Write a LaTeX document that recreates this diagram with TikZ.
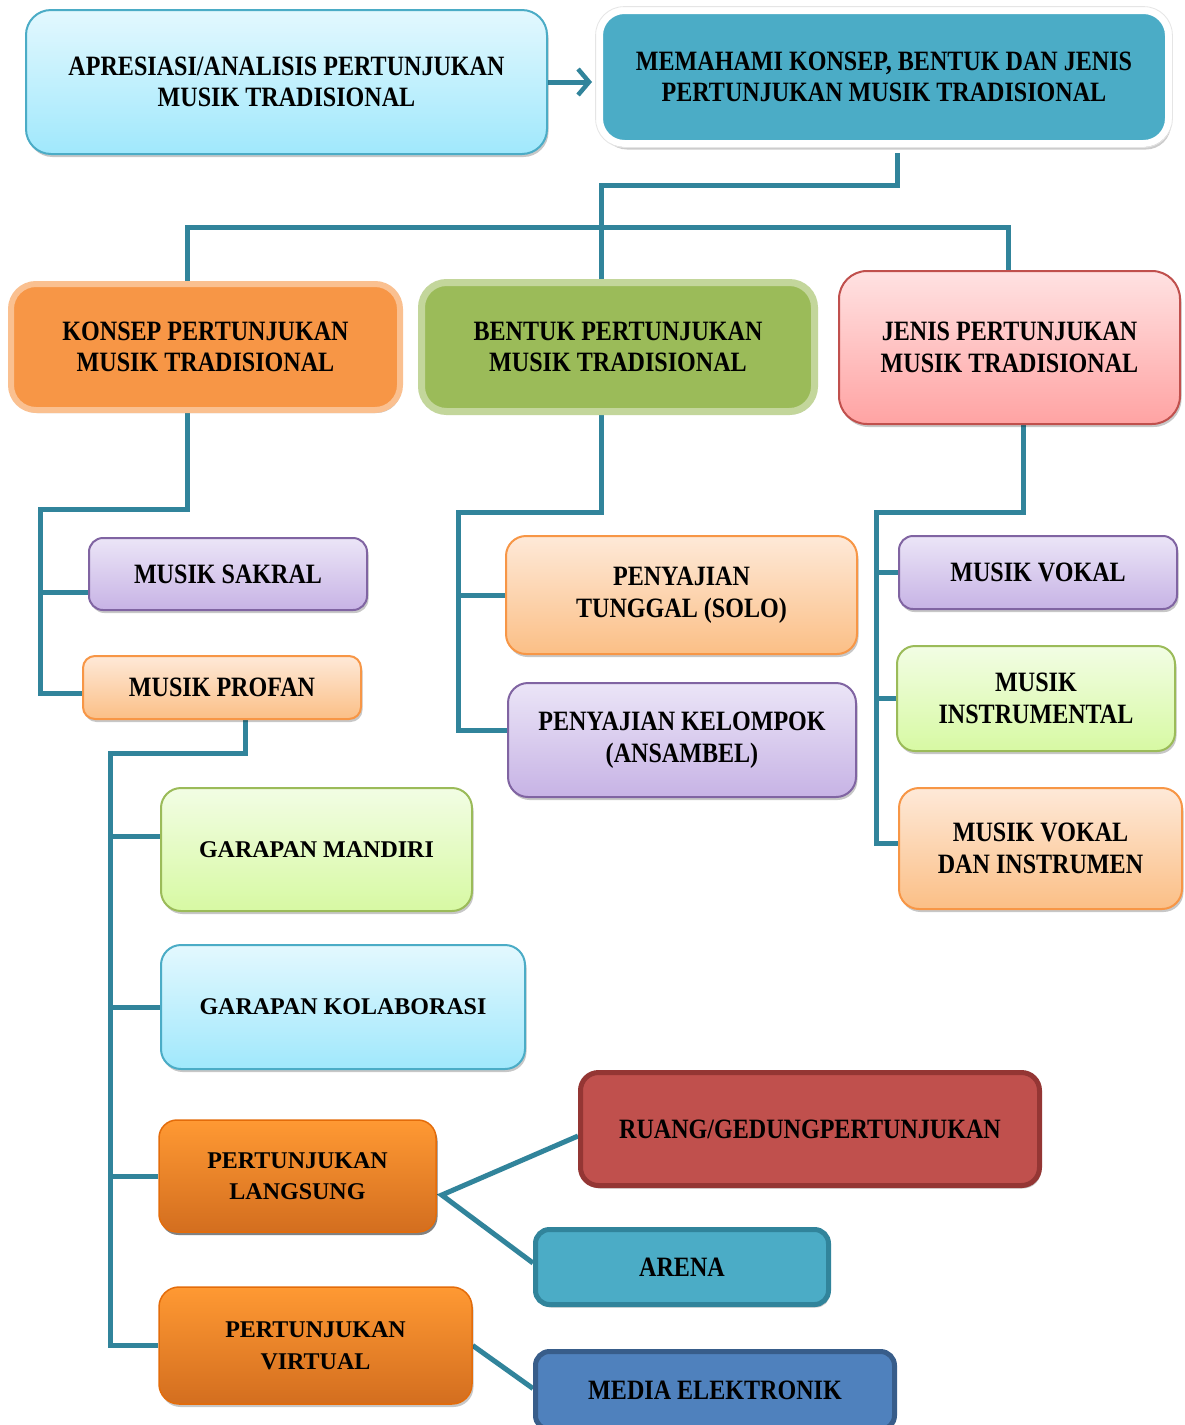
\documentclass[tikz,border=0pt]{standalone}
\usepackage{fontspec}
\setmainfont{Liberation Serif}
\newfontfamily\condf[FakeStretch=0.86]{Liberation Serif}
\usetikzlibrary{arrows.meta,shadows,calc}
\pgfdeclarelayer{background}
\pgfsetlayers{background,main}
\definecolor{lineC}{HTML}{31849B}
\definecolor{cyT}{HTML}{E3F8FE}\definecolor{cyB}{HTML}{A0E8FC}\definecolor{cyD}{HTML}{4BACC6}
\definecolor{teal}{HTML}{4BACC6}
\definecolor{konF}{HTML}{F79646}\definecolor{konD}{HTML}{FAC090}
\definecolor{benF}{HTML}{9BBB59}\definecolor{benD}{HTML}{C3D69B}
\definecolor{piT}{HTML}{FFE2E2}\definecolor{piB}{HTML}{FFA3A3}\definecolor{piD}{HTML}{C0504D}
\definecolor{laT}{HTML}{EBE5F7}\definecolor{laB}{HTML}{C7B3E5}\definecolor{laD}{HTML}{8064A2}
\definecolor{peT}{HTML}{FEE9D8}\definecolor{peB}{HTML}{FBBF86}\definecolor{peD}{HTML}{F79646}
\definecolor{grT}{HTML}{F2FDE4}\definecolor{grB}{HTML}{D7F9A3}\definecolor{grD}{HTML}{9BBB59}
\definecolor{orT}{HTML}{FF9933}\definecolor{orB}{HTML}{D36E1F}\definecolor{orD}{HTML}{E46C0A}
\definecolor{ruF}{HTML}{C0504D}\definecolor{ruD}{HTML}{943634}
\definecolor{arD}{HTML}{31849B}
\definecolor{meF}{HTML}{4F81BD}\definecolor{meD}{HTML}{385D8A}
\tikzset{
  conn/.style={draw=lineC, line width=5pt},
  bx/.style={rectangle, align=center, inner sep=0pt, text=black,
    drop shadow={shadow xshift=1.5pt, shadow yshift=-3pt, opacity=0.22, fill=black}},
  tcond/.style={font=\condf\bfseries\fontsize{28}{31.5}\selectfont},
  tnorm/.style={font=\bfseries\fontsize{24}{31.5}\selectfont},
  cyanG/.style={top color=cyT, bottom color=cyB, draw=cyD, line width=2pt},
  pinkG/.style={top color=piT, bottom color=piB, draw=piD, line width=2pt},
  lavG/.style={top color=laT, bottom color=laB, draw=laD, line width=2pt},
  peachG/.style={top color=peT, bottom color=peB, draw=peD, line width=2pt},
  greenG/.style={top color=grT, bottom color=grB, draw=grD, line width=2pt},
  orangeG/.style={top color=orT, bottom color=orB, draw=orD, line width=1.5pt},
}
\begin{document}
\begin{tikzpicture}[x=1pt,y=-1pt]
\useasboundingbox (0,0) rectangle (1184,1425);
\begin{pgfonlayer}{background}
\fill[white] (0,0) rectangle (1184,1425);
\end{pgfonlayer}

% top row
\node[bx, tcond, cyanG, rounded corners=25pt, minimum width=521pt, minimum height=144pt] (A) at (286.5,82)
  {APRESIASI/ANALISIS PERTUNJUKAN\\MUSIK TRADISIONAL};
\node[bx, tcond, fill=teal, draw=white, line width=7pt, rounded corners=25pt, minimum width=569pt, minimum height=133pt,
  drop shadow={shadow xshift=2.5pt, shadow yshift=-6pt, opacity=0.2, fill=black}] (B) at (884,77)
  {MEMAHAMI KONSEP, BENTUK DAN JENIS\\PERTUNJUKAN MUSIK TRADISIONAL};
\draw[black!10, line width=0.8pt, rounded corners=28.5pt]
  ([xshift=-0.4pt,yshift=0.4pt]B.north west) rectangle ([xshift=0.4pt,yshift=-0.4pt]B.south east);

% second row
\node[bx, tcond, fill=konF, draw=konD, line width=6pt, rounded corners=25pt, minimum width=389pt, minimum height=126pt] (KONSEP) at (205.5,347)
  {KONSEP PERTUNJUKAN\\MUSIK TRADISIONAL};
\node[bx, tcond, fill=benF, draw=benD, line width=7pt, rounded corners=25pt, minimum width=393pt, minimum height=129pt] (BENTUK) at (618,347)
  {BENTUK PERTUNJUKAN\\MUSIK TRADISIONAL};
\node[bx, tcond, pinkG, rounded corners=28pt, minimum width=341pt, minimum height=153pt] (JENIS) at (1009.5,347.5)
  {JENIS PERTUNJUKAN\\MUSIK TRADISIONAL};

% konsep children
\node[bx, tcond, lavG, rounded corners=14pt, minimum width=278pt, minimum height=72pt] (SAKRAL) at (228,574) {MUSIK SAKRAL};
\node[bx, tcond, peachG, rounded corners=12pt, minimum width=278pt, minimum height=63pt] (PROFAN) at (222,687.5) {MUSIK PROFAN};

% bentuk children
\node[bx, tcond, peachG, rounded corners=20pt, minimum width=351pt, minimum height=118pt] (TUNGGAL) at (681.5,595)
  {PENYAJIAN\\TUNGGAL (SOLO)};
\node[bx, tcond, lavG, rounded corners=20pt, minimum width=348pt, minimum height=114pt] (KELOMPOK) at (682,740)
  {PENYAJIAN KELOMPOK\\(ANSAMBEL)};

% jenis children
\node[bx, tcond, lavG, rounded corners=14pt, minimum width=278pt, minimum height=73pt] (VOKAL) at (1038,572.5) {MUSIK VOKAL};
\node[bx, tcond, greenG, rounded corners=18pt, minimum width=278pt, minimum height=105pt] (INSTR) at (1036,698.5)
  {MUSIK\\INSTRUMENTAL};
\node[bx, tcond, peachG, rounded corners=20pt, minimum width=283pt, minimum height=121pt] (VDI) at (1040.5,848.5)
  {MUSIK VOKAL\\DAN INSTRUMEN};

% profan children
\node[bx, tnorm, greenG, rounded corners=20pt, minimum width=311pt, minimum height=123pt] (MANDIRI) at (316.5,849.5) {GARAPAN MANDIRI};
\node[bx, tnorm, cyanG, rounded corners=20pt, minimum width=364pt, minimum height=124pt] (KOLAB) at (343,1007) {GARAPAN KOLABORASI};
\node[bx, tnorm, orangeG, rounded corners=18pt, minimum width=277pt, minimum height=112pt,
  drop shadow={shadow xshift=1.5pt, shadow yshift=-3pt, opacity=0.35, fill=black}] (LANGSUNG) at (297.5,1176)
  {PERTUNJUKAN\\LANGSUNG};
\node[bx, tnorm, orangeG, rounded corners=20pt, minimum width=313pt, minimum height=117pt] (VIRTUAL) at (315.5,1345.5)
  {PERTUNJUKAN\\VIRTUAL};

% venues
\node[bx, tcond, fill=ruF, draw=ruD, line width=5pt, rounded corners=18pt, minimum width=459pt, minimum height=113pt] (RUANG) at (810,1129)
  {RUANG/GEDUNGPERTUNJUKAN};
\node[bx, tcond, fill=teal, draw=arD, line width=5pt, rounded corners=14pt, minimum width=293pt, minimum height=75pt] (ARENA) at (682,1267) {ARENA};
\node[bx, tcond, fill=meF, draw=meD, line width=5pt, rounded corners=14pt, minimum width=359pt, minimum height=78pt] (MEDIA) at (715,1390.5) {MEDIA ELEKTRONIK};

% connection points
\coordinate (hb) at (601,227);
\coordinate (k1) at (40,509);
\coordinate (b1) at (458,512);
\coordinate (j1) at (876,512);
\coordinate (p1) at (110,753);
\coordinate (skIn) at ([yshift=-18pt]SAKRAL.west);
\coordinate (prIn) at ([yshift=-6pt]PROFAN.west);
\coordinate (keIn) at ([yshift=10pt]KELOMPOK.west);
\coordinate (vdIn) at ([yshift=5pt]VDI.west);
\coordinate (maIn) at ([yshift=13.5pt]MANDIRI.west);
\coordinate (l1) at ([xshift=5pt,yshift=-19pt]LANGSUNG.east);

% connectors
\begin{pgfonlayer}{background}
\draw[conn, -{Straight Barb[length=11pt,width=26pt,line width=4.5pt]}, shorten >=4pt] (A.east) -- (A.east -| B.west);
\draw[conn] ([xshift=13pt,yshift=-6pt]B.south) -- ++(0,32) -| ([xshift=-17pt]BENTUK.north);
\draw[conn] ([xshift=-18.5pt]KONSEP.north) |- (hb) -| ([xshift=-1.5pt]JENIS.north);

\draw[conn] ([xshift=-18.5pt]KONSEP.south) |- (k1) |- (prIn);
\draw[conn] (k1 |- skIn) -- (skIn);

\draw[conn] ([xshift=-17pt]BENTUK.south) |- (b1) |- (keIn);
\draw[conn] (b1 |- TUNGGAL.west) -- (TUNGGAL.west);

\draw[conn] ([xshift=13.5pt]JENIS.south) |- (j1) |- (vdIn);
\draw[conn] (j1 |- VOKAL.west) -- (VOKAL.west);
\draw[conn] (j1 |- INSTR.west) -- (INSTR.west);

\draw[conn] ([xshift=23pt]PROFAN.south) |- (p1) |- (VIRTUAL.west);
\draw[conn] (p1 |- maIn) -- (maIn);
\draw[conn] (p1 |- KOLAB.west) -- (KOLAB.west);
\draw[conn] (p1 |- LANGSUNG.west) -- (LANGSUNG.west);

\draw[conn] ([yshift=-7pt]RUANG.west) -- (l1) -- ([yshift=4pt]ARENA.west);
\draw[conn] (VIRTUAL.east) -- ([yshift=2pt]MEDIA.west);
\end{pgfonlayer}
\end{tikzpicture}
\end{document}
